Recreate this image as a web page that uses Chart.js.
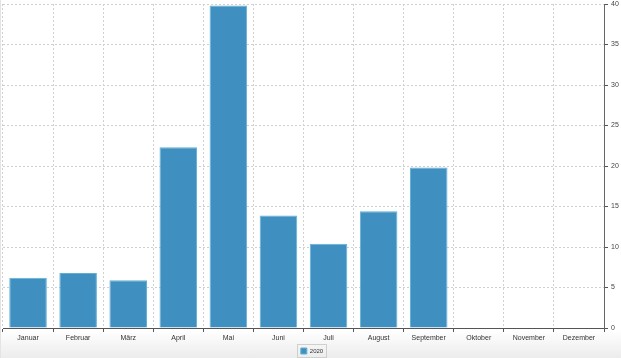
<!DOCTYPE html>
<html>
<head>
<meta charset="utf-8">
<script src="https://cdn.jsdelivr.net/npm/chart.js@4/dist/chart.umd.min.js"></script>
<style>
  html, body { margin: 0; padding: 0; }
  body {
    width: 621px; height: 358px; overflow: hidden;
    background: linear-gradient(to bottom, #ffffff 0px, #ffffff 330px, #ececec 358px);
  }
  #wrap { position: absolute; left: 0; top: 0; width: 621px; height: 358px; border-left: 1px solid #e4e4e4; box-sizing: border-box; }
</style>
</head>
<body>
<div id="wrap"><canvas id="chart" width="620" height="358"></canvas></div>
<script>
const months = ['Januar', 'Februar', 'März', 'April', 'Mai', 'Juni', 'Juli', 'August', 'September', 'Oktober', 'November', 'Dezember'];
const values2020 = [6.2, 6.8, 5.9, 22.3, 39.8, 13.9, 10.4, 14.4, 19.8, null, null, null];
const seriesLabel = '2020';
const yTicks = [0, 5, 10, 15, 20, 25, 30, 35, 40];

// draws the thin frame round the legend entry
const legendFrame = {
  id: 'legendFrame',
  afterDraw(chart) {
    const boxes = chart.legend && chart.legend.legendHitBoxes;
    if (!boxes || !boxes.length) return;
    const b = boxes[0];
    const ctx = chart.ctx;
    ctx.save();
    ctx.strokeStyle = '#cfcfcf';
    ctx.lineWidth = 1;
    ctx.strokeRect(Math.round(b.left) - 3.5, Math.round(b.top) - 3.5, Math.round(b.width) + 7, Math.round(b.height) + 7);
    ctx.restore();
  }
};

const ctx = document.getElementById('chart').getContext('2d');
new Chart(ctx, {
  type: 'bar',
  data: {
    labels: months,
    datasets: [{
      label: seriesLabel,
      data: values2020,
      backgroundColor: '#3f90c1',
      borderColor: '#5fb0d4',
      borderWidth: 1,
      categoryPercentage: 0.75,
      barPercentage: 1
    }]
  },
  options: {
    responsive: false,
    animation: false,
    layout: { padding: { left: 2, top: 4, right: 0, bottom: -6 } },
    scales: {
      x: {
        offset: true,
        grid: {
          offset: true,
          color: '#d0d0d0',
          tickColor: '#555',
          tickLength: 4
        },
        border: { color: '#555', width: 1, dash: [2, 2] },
        ticks: {
          color: '#333',
          font: { family: 'Liberation Sans', size: 7 },
          maxRotation: 0,
          padding: 2
        },
        afterFit(scale) { scale.height = 17; }
      },
      y: {
        position: 'right',
        min: 0,
        max: 40,
        afterBuildTicks(scale) { scale.ticks = yTicks.map(v => ({ value: v })); },
        grid: {
          color: '#d0d0d0',
          tickColor: '#555',
          tickLength: 4
        },
        border: { color: '#666', width: 1, dash: [2, 2] },
        ticks: {
          color: '#444',
          font: { family: 'Liberation Sans', size: 7 },
          padding: 3
        },
        afterFit(scale) {
          scale.width = 17;
          scale.paddingTop = 0;
          scale.paddingBottom = 0;
        }
      }
    },
    plugins: {
      legend: {
        position: 'bottom',
        labels: {
          boxWidth: 6,
          boxHeight: 6,
          padding: 3,
          color: '#333',
          font: { family: 'Liberation Sans', size: 6 }
        }
      },
      tooltip: { enabled: false }
    }
  },
  plugins: [legendFrame]
});
</script>
</body>
</html>
